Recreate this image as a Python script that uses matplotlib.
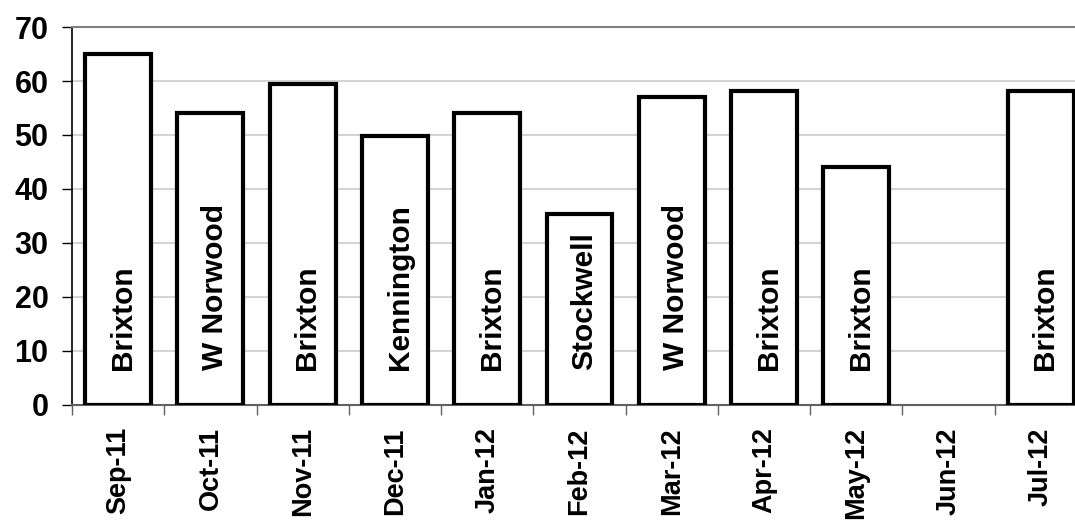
import matplotlib
matplotlib.use("Agg")
import matplotlib.pyplot as plt
import numpy as np

months = ["Sep-11", "Oct-11", "Nov-11", "Dec-11", "Jan-12", "Feb-12",
          "Mar-12", "Apr-12", "May-12", "Jun-12", "Jul-12"]
values = [65.0, 54.1, 59.4, 49.8, 54.1, 35.3, 57.1, 58.2, 44.1, None, 58.2]
places = ["Brixton", "W Norwood", "Brixton", "Kennington", "Brixton", "Stockwell",
          "W Norwood", "Brixton", "Brixton", "", "Brixton"]
yticks = [0, 10, 20, 30, 40, 50, 60, 70]

plt.rcParams['font.family'] = ['Liberation Sans', 'DejaVu Sans']
plt.rcParams['font.weight'] = 'bold'

fig = plt.figure(figsize=(10.75, 5.2), dpi=100)
ax = fig.add_axes([72/1075, 115/520, 1015/1075, 378/520])

x = np.arange(len(months))
for i, (v, p) in enumerate(zip(values, places)):
    if v is None:
        continue
    ax.bar(i, v, width=0.715, facecolor='white', edgecolor='black',
           linewidth=3, zorder=3)
    if p:
        ax.text(i + 0.05, 6.5, p, rotation=90, ha='center', va='bottom',
                fontsize=21.5, fontweight='bold', zorder=4)

ax.set_xlim(-0.5, len(months) - 0.5)
ax.set_ylim(0, 70)
ax.set_yticks(yticks)
ax.set_yticklabels([str(t) for t in yticks], fontsize=22, fontweight='bold')
ax.yaxis.grid(True, color='#d4d4d4', linewidth=1.5, zorder=0)
ax.set_axisbelow(True)

ax.set_xticks(x)
ax.set_xticklabels(months, rotation=90, fontsize=19.5, fontweight='bold')
ax.set_xticks(np.arange(-0.5, len(months), 1.0), minor=True)
ax.tick_params(axis='x', which='major', length=0, pad=16)
ax.tick_params(axis='x', which='minor', length=7, width=1, color='#606060',
               direction='out')
ax.tick_params(axis='y', length=7, width=1, color='black', direction='out', pad=10)

ax.spines['left'].set_color('black')
ax.spines['left'].set_linewidth(1.2)
ax.spines['bottom'].set_color('#606060')
ax.spines['bottom'].set_linewidth(1.5)
ax.spines['top'].set_color('#808080')
ax.spines['top'].set_linewidth(1.5)
ax.spines['right'].set_visible(False)

fig.savefig("out.png", dpi=100)
